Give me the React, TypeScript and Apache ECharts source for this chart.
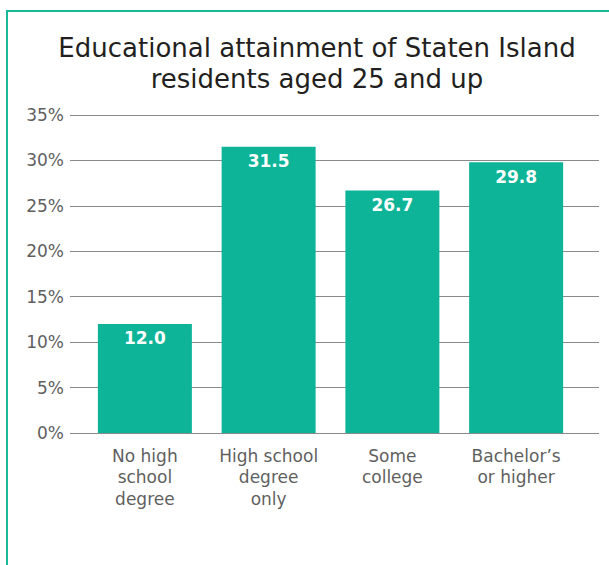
import React, { useEffect, useRef } from "react";
import * as echarts from "echarts";

const categories = ["No high\nschool\ndegree", "High school\ndegree\nonly", "Some\ncollege", "Bachelor’s\nor higher"];
const values = [12.0, 31.5, 26.7, 29.8];
const yTicks = [0, 5, 10, 15, 20, 25, 30, 35];
const titleText = "Educational attainment of Staten Island\nresidents aged 25 and up";

const FONT = "'DejaVu Sans', 'Noto Sans', sans-serif";
const TEAL = "#0db497";

export default function App() {
  const ref = useRef<HTMLDivElement>(null);
  useEffect(() => {
    if (!ref.current) return;
    const chart = echarts.init(ref.current, undefined, { renderer: "svg" });
    const top = 115;
    const bottom = 565 - 433;
    chart.setOption({
      animation: false,
      backgroundColor: "#ffffff",
      title: {
        text: titleText,
        left: 312,
        textAlign: "center",
        top: 27,
        textStyle: {
          fontFamily: FONT,
          fontSize: 26,
          fontWeight: "normal",
          color: "#231f20",
          lineHeight: 31.5,
        },
      },
      graphic: [
        { type: "line", shape: { x1: 6, y1: 11, x2: 609, y2: 11 }, style: { stroke: "#19b99a", lineWidth: 2 } },
        { type: "line", shape: { x1: 7, y1: 10, x2: 7, y2: 565 }, style: { stroke: "#19b99a", lineWidth: 2 } },
      ],
      grid: [
        { left: 70, right: 10, top, bottom, containLabel: false },
        { left: 83, width: 495, top, bottom, containLabel: false },
      ],
      xAxis: [
        { type: "value", gridIndex: 0, min: 0, max: 1, show: false },
        {
          type: "category",
          gridIndex: 1,
          data: categories,
          axisLine: { show: false },
          axisTick: { show: false },
          axisLabel: {
            margin: 12,
            fontFamily: FONT,
            fontSize: 17,
            lineHeight: 21.5,
            color: "#5f5f5f",
            interval: 0,
            verticalAlign: "top",
          },
        },
      ],
      yAxis: [
        {
          type: "value",
          gridIndex: 0,
          min: yTicks[0],
          max: yTicks[yTicks.length - 1],
          interval: 5,
          axisLine: { show: false },
          axisTick: { show: false },
          splitLine: { show: true, lineStyle: { color: "#8a8a8a", width: 1 } },
          axisLabel: {
            margin: 6,
            fontFamily: FONT,
            fontSize: 17,
            color: "#5f5f5f",
            formatter: (v: number) => `${v}%`,
          },
        },
        { type: "value", gridIndex: 1, min: 0, max: 35, show: false },
      ],
      series: [
        {
          type: "bar",
          xAxisIndex: 1,
          yAxisIndex: 1,
          data: values,
          barWidth: 94,
          itemStyle: { color: TEAL },
          label: {
            show: true,
            position: "insideTop",
            distance: 6,
            formatter: (p: any) => p.value.toFixed(1),
            fontFamily: FONT,
            fontSize: 17,
            fontWeight: "bold",
            color: "#ffffff",
          },
        },
      ],
    });
    return () => chart.dispose();
  }, []);
  return <div ref={ref} style={{ position: "fixed", left: 0, top: 0, width: 609, height: 565 }} />;
}
